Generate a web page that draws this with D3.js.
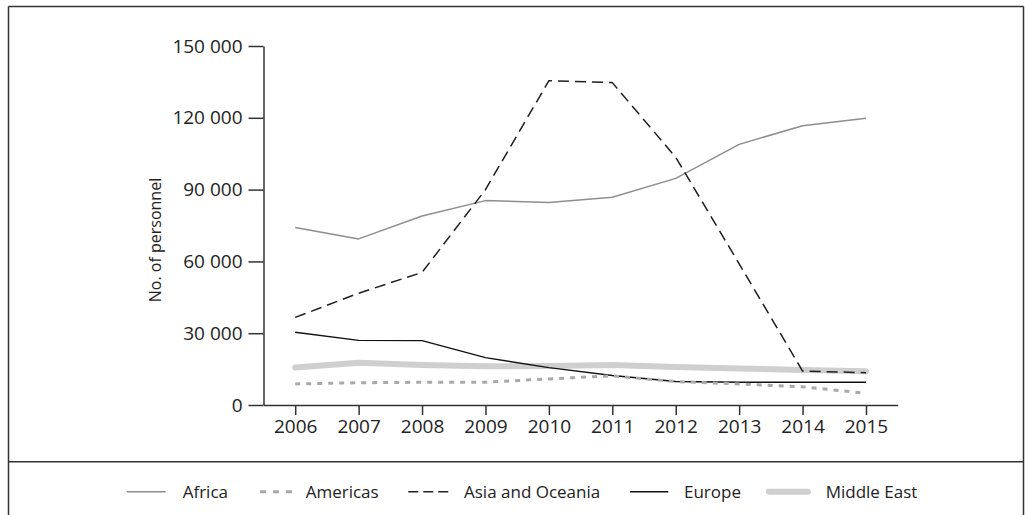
<!DOCTYPE html>
<html><head><meta charset="utf-8">
<script src="https://cdn.jsdelivr.net/npm/d3@7"></script>
<style>
html,body{margin:0;padding:0;background:#fff;}
svg{display:block;font-family:"Open Sans",sans-serif;}
</style></head>
<body>
<svg id="chart" width="1025" height="515"></svg>
<script>
const years = [2006,2007,2008,2009,2010,2011,2012,2013,2014,2015];
const africa   = [74200,69400,79000,85400,84600,86800,94700,108900,116700,119800];
const americas = [8800,9300,9500,9500,10900,12200,9800,8800,7600,4900];
const asia     = [36600,46700,55400,90000,135500,134700,103500,59000,14200,13500];
const europe   = [30400,27000,26900,19800,15600,12300,9800,9500,9500,9500];
const middleEast = [15700,17700,16700,16200,16300,16700,15900,15300,14600,14100];
const yTicks = [0,30000,60000,90000,120000,150000];
const seriesNames = ["Africa","Americas","Asia and Oceania","Europe","Middle East"];

const styles = {
  "Africa": {stroke:"#8e8e8e", width:1.5, dash:null, cap:"butt"},
  "Americas": {stroke:"#a9a9a9", width:3, dash:"5,6", cap:"butt"},
  "Asia and Oceania": {stroke:"#1e1e1e", width:1.5, dash:"11,6", cap:"butt"},
  "Europe": {stroke:"#111", width:1.4, dash:null, cap:"butt"},
  "Middle East": {stroke:"#cfcfcf", width:6, dash:null, cap:"round"}
};
const dataMap = {"Africa":africa,"Americas":americas,"Asia and Oceania":asia,"Europe":europe,"Middle East":middleEast};

const svg = d3.select("#chart");
const W = 1025, H = 515;

// frame
svg.append("line").attr("x1",8.5).attr("x2",8.5).attr("y1",6.5).attr("y2",H).attr("stroke","#333").attr("stroke-width",1.5);
svg.append("line").attr("x1",1023.5).attr("x2",1023.5).attr("y1",6.5).attr("y2",H).attr("stroke","#333").attr("stroke-width",1.5);
svg.append("line").attr("x1",8.5).attr("x2",1023.5).attr("y1",6.5).attr("y2",6.5).attr("stroke","#333").attr("stroke-width",1.5);
svg.append("line").attr("x1",8.5).attr("x2",1023.5).attr("y1",461.7).attr("y2",461.7).attr("stroke","#333").attr("stroke-width",1.5);

const x = d3.scalePoint().domain(years).range([263.5,897.7]).padding(0.5);
const y = d3.scaleLinear().domain([0,150000]).range([405,46]);

const fmt = v => d3.format(",")(v).replace(/,/g," ");

const gy = svg.append("g").attr("transform","translate(263.5,0)")
  .call(d3.axisLeft(y).tickValues(yTicks).tickSize(15).tickSizeOuter(0).tickPadding(6).tickFormat(fmt));
const gx = svg.append("g").attr("transform","translate(0,405)")
  .call(d3.axisBottom(x).tickSize(10).tickSizeOuter(0).tickPadding(5).tickFormat(d3.format("d")));
[gy,gx].forEach(g=>{
  g.selectAll("path,line").attr("stroke","#333").attr("stroke-width",1.5);
  g.selectAll("text").attr("fill","#222").style("font-size","19px").style("font-family","'Open Sans',sans-serif");
});

svg.append("text").attr("transform","translate(161,240) rotate(-90)")
  .attr("text-anchor","middle").attr("fill","#222").style("font-size","16px").text("No. of personnel");

const line = d3.line().x((d,i)=>x(years[i])).y(d=>y(d));
const drawOrder = ["Middle East","Europe","Americas","Africa","Asia and Oceania"];
drawOrder.forEach(name=>{
  const s = styles[name];
  svg.append("path").datum(dataMap[name]).attr("d",line)
    .attr("fill","none").attr("stroke",s.stroke).attr("stroke-width",s.width)
    .attr("stroke-dasharray",s.dash).attr("stroke-linecap",s.cap).attr("stroke-linejoin","round");
});

// legend
const legendX = [[126.7,165.7,182.7],[260,292.7,305.7],[408.3,448.3,464],[630,668.3,684],[769,808,825.7]];
const legendDash = {"Americas":"6,7","Asia and Oceania":"10,5"};
const ly = 491.7;
seriesNames.forEach((name,i)=>{
  const s = styles[name], p = legendX[i];
  svg.append("line").attr("x1",p[0]).attr("x2",p[1]).attr("y1",ly).attr("y2",ly)
    .attr("stroke",s.stroke).attr("stroke-width",s.width)
    .attr("stroke-dasharray",legendDash[name]||null).attr("stroke-linecap",s.cap);
  svg.append("text").attr("x",p[2]).attr("y",ly).attr("dy","0.35em")
    .attr("fill","#222").style("font-size","17px").text(name);
});
</script>
</body></html>
